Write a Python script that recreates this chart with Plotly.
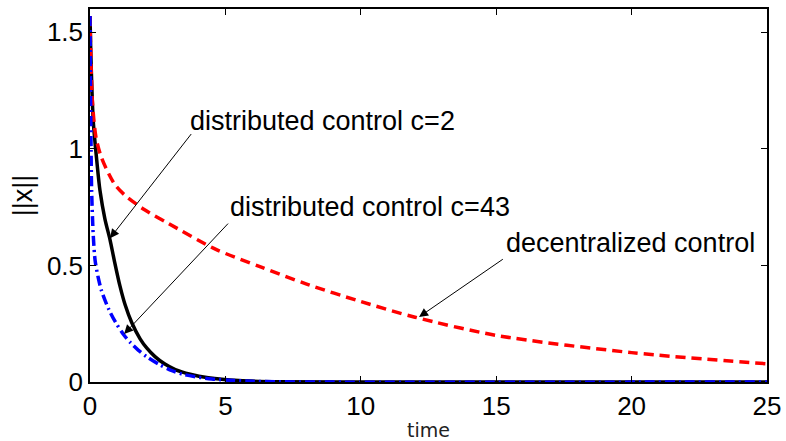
import plotly.graph_objects as go

# ||x|| trajectories over time for three control schemes
t_c2 = [0, 0.03, 0.12, 0.25, 0.37, 0.55, 0.74, 0.9, 1.11, 1.3, 1.54, 1.85, 2.1, 2.4, 2.75, 3.15, 3.7, 4.37, 5.5, 7, 10, 25]
x_c2 = [1.57, 1.41, 1.12, 0.95, 0.82, 0.70, 0.61, 0.52, 0.41, 0.33, 0.255, 0.185, 0.145, 0.109, 0.078, 0.053, 0.033, 0.018, 0.006, 0.001, 0, 0]

t_dec = [0, 0.03, 0.09, 0.22, 0.4, 0.62, 0.93, 1.3, 2, 2.9, 4.63, 6.3, 8, 10, 12, 15, 20, 25]
x_dec = [1.57, 1.40, 1.20, 1.05, 0.97, 0.91, 0.845, 0.80, 0.74, 0.68, 0.57, 0.494, 0.42, 0.345, 0.278, 0.20, 0.126, 0.078]

t_c43 = [0, 0.02, 0.04, 0.06, 0.12, 0.19, 0.3, 0.43, 0.7, 0.95, 1.23, 1.5, 1.78, 2.1, 2.52, 3.0, 3.5, 4.5, 6, 8, 25]
x_c43 = [1.57, 1.25, 1.0, 0.824, 0.63, 0.52, 0.45, 0.39, 0.31, 0.255, 0.205, 0.168, 0.137, 0.108, 0.078, 0.05, 0.031, 0.013, 0.003, 0, 0]

x_ticks = [0, 5, 10, 15, 20, 25]
y_ticks = [0, 0.5, 1, 1.5]
y_tick_text = ["0", "0.5", "1", "1.5"]

# annotation texts and the arrows pointing from each text to its curve
labels = ["distributed control c=2", "distributed control c=43", "decentralized control"]
label_t = [3.63, 5.11, 15.3]
label_y = [1.118, 0.75, 0.595]
tip_t = [0.74, 1.26, 12.15]
tip_y = [0.617, 0.206, 0.279]
tail_t = [3.78, 5.15, 15.3]
tail_y = [1.07, 0.686, 0.531]

fig = go.Figure()
fig.add_trace(go.Scatter(x=t_c2, y=x_c2, mode="lines",
                         line=dict(color="black", width=3.5, shape="spline", smoothing=0.8),
                         showlegend=False))
fig.add_trace(go.Scatter(x=t_dec, y=x_dec, mode="lines",
                         line=dict(color="#ff0000", width=3.5, dash="10px,6px",
                                   shape="spline", smoothing=0.8),
                         showlegend=False))
fig.add_trace(go.Scatter(x=t_c43, y=x_c43, mode="lines",
                         line=dict(color="#0000ff", width=3.5, dash="10px,4px,2px,4px",
                                   shape="spline", smoothing=0.8),
                         showlegend=False))

for i, txt in enumerate(labels):
    fig.add_annotation(x=label_t[i], y=label_y[i], text=txt, showarrow=False,
                       xanchor="left", yanchor="middle",
                       font=dict(family="Liberation Sans, Arial", size=27, color="black"))
    fig.add_annotation(x=tip_t[i], y=tip_y[i], ax=tail_t[i], ay=tail_y[i],
                       axref="x", ayref="y", text="", showarrow=True,
                       arrowhead=2, arrowsize=1.8, arrowwidth=1, arrowcolor="black")

axis_common = dict(showgrid=False, zeroline=False, showline=True, linecolor="black",
                   linewidth=1.5, mirror="ticks", ticks="inside", ticklen=6,
                   tickcolor="black", tickwidth=1, automargin=False,
                   tickfont=dict(family="Liberation Sans, Arial", size=26, color="black"))

fig.update_xaxes(range=[0, 25], tickvals=x_ticks,
                 title=dict(text="time", font=dict(family="DejaVu Sans", size=19, color="#222"),
                            standoff=6),
                 **axis_common)
fig.update_yaxes(range=[0, 1.6], tickvals=y_ticks, ticktext=y_tick_text,
                 title=dict(text="||x||", font=dict(family="Liberation Sans, Arial", size=27, color="black"),
                            standoff=6),
                 **axis_common)

fig.update_layout(width=786, height=441, margin=dict(l=90, r=19, t=9, b=59),
                  paper_bgcolor="white", plot_bgcolor="white")

fig.write_html("out.html")
